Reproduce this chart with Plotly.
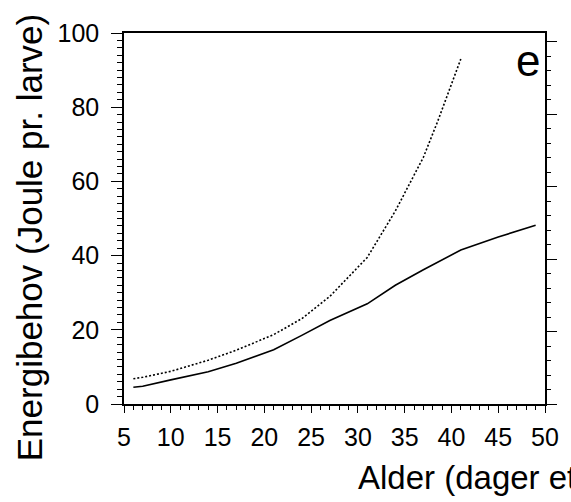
import plotly.graph_objects as go

age_solid = [6, 7, 10, 14, 17, 21, 24, 27, 31, 34, 37, 41, 45, 49]
energy_solid = [4.5, 4.8, 6.5, 8.7, 11.0, 14.6, 18.5, 22.5, 27.0, 32.0, 36.2, 41.5, 45.0, 48.2]

age_dotted = [6, 7, 10, 14, 17, 21, 24, 27, 31, 34, 37, 38.5, 41]
energy_dotted = [6.8, 7.2, 8.8, 11.8, 14.5, 18.7, 23.0, 29.0, 39.5, 52.0, 66.5, 76.0, 93.0]

x_ticks = [5, 10, 15, 20, 25, 30, 35, 40, 45, 50]
y_ticks = [0, 20, 40, 60, 80, 100]

font = "Liberation Sans, Arial, sans-serif"

fig = go.Figure()
fig.add_trace(go.Scatter(x=age_solid, y=energy_solid, mode="lines",
                         line=dict(color="black", width=1.6), showlegend=False))
fig.add_trace(go.Scatter(x=age_dotted, y=energy_dotted, mode="lines",
                         line=dict(color="black", width=1.6, dash="2px,2px"), showlegend=False))
# invisible trace to activate right axis
fig.add_trace(go.Scatter(x=[5], y=[0], yaxis="y2", mode="markers",
                         marker=dict(opacity=0), showlegend=False, hoverinfo="skip"))

fig.update_layout(
    width=571, height=502,
    margin=dict(l=124, r=16, t=33, b=98),
    paper_bgcolor="white", plot_bgcolor="white",
    font=dict(family=font, color="black", size=25),
    xaxis=dict(range=[5, 50], tickvals=x_ticks, ticks="outside", ticklen=7, tickwidth=1.3,
               tickcolor="black", showline=True, linecolor="black", linewidth=1.5,
               mirror=True, showgrid=False, zeroline=False,
               minor=dict(dtick=1, ticks="outside", ticklen=4, tickcolor="black", tickwidth=1),
               tickfont=dict(size=25), ticklabelstandoff=3),
    yaxis=dict(range=[0, 100], tickvals=y_ticks, ticks="outside", ticklen=11, tickwidth=1.3,
               tickcolor="black", showline=True, linecolor="black", linewidth=1.5,
               showgrid=False, zeroline=False,
               minor=dict(dtick=2, ticks="outside", ticklen=5, tickcolor="black", tickwidth=1),
               tickfont=dict(size=25), ticklabelstandoff=7),
    yaxis2=dict(overlaying="y", side="right", range=[0, 5.124], dtick=1,
                ticks="outside", ticklen=10, tickwidth=1.2, tickcolor="black",
                showline=True, linecolor="black", linewidth=1.5,
                showticklabels=False, showgrid=False, zeroline=False,
                minor=dict(dtick=0.2, ticks="outside", ticklen=4, tickcolor="black", tickwidth=1)),
    annotations=[
        dict(text="Energibehov (Joule pr. larve)", xref="paper", yref="paper",
             x=(27-124)/431, y=(404-238)/371, textangle=-90, showarrow=False,
             font=dict(size=35), xanchor="center", yanchor="middle"),
        dict(text="Alder (dager etter klekking)", xref="paper", yref="paper",
             x=(362-124)/431, y=-(477-404)/371, showarrow=False,
             font=dict(size=33), xanchor="left", yanchor="middle"),
        dict(text="e", xref="paper", yref="paper", x=(538-124)/431, y=(404-60)/371,
             showarrow=False, font=dict(size=44), xanchor="center", yanchor="middle"),
    ],
)

fig.write_html("out.html")
